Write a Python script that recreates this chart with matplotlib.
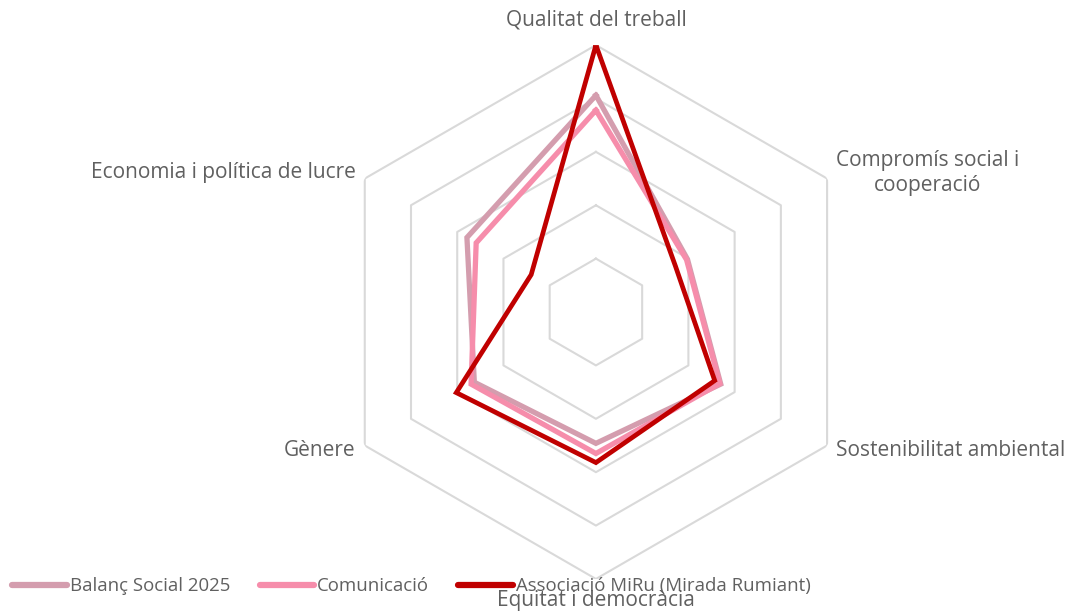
import numpy as np
import matplotlib
matplotlib.use("Agg")
import matplotlib.pyplot as plt

# data (scale 0-5)
categories = ["Qualitat del treball", "Compromís social i\ncooperació",
              "Sostenibilitat ambiental", "Equitat i democràcia",
              "Gènere", "Economia i política de lucre"]
balanc = [4.06, 1.98, 2.70, 2.46, 2.63, 2.79]
comunicacio = [3.78, 1.96, 2.68, 2.65, 2.70, 2.59]
miru = [5.0, 1.72, 2.57, 2.82, 3.02, 1.40]
series_names = ["Balanç Social 2025", "Comunicació", "Associació MiRu (Mirada Rumiant)"]
series_colors = ["#d49dae", "#f68dab", "#c00000"]
ring_values = [1, 2, 3, 4, 5]

plt.rcParams['font.family'] = ['Open Sans', 'DejaVu Sans']
text_color = "#606060"

fig = plt.figure(figsize=(10.72, 6.12), dpi=100)
ax = fig.add_axes([0.3069, 0.0539, 0.498, 0.8725], projection="polar")
ax.set_theta_offset(np.pi / 2)
ax.set_theta_direction(-1)

n = len(categories)
theta = np.linspace(0, 2 * np.pi, n, endpoint=False)
theta_closed = np.append(theta, theta[0])

# hexagonal grid instead of circles
for rv in ring_values:
    ax.plot(theta_closed, [rv] * (n + 1), color="#d9d9d9", lw=1.5, zorder=1)

for vals, name, col, lw in zip([balanc, comunicacio, miru], series_names,
                               series_colors, [3.8, 3.8, 3.4]):
    ax.plot(theta_closed, vals + vals[:1], color=col, lw=lw, label=name,
            solid_joinstyle="miter", zorder=3)

ax.set_ylim(0, 5)
ax.grid(False)
ax.spines["polar"].set_visible(False)
ax.set_xticks([])
ax.set_yticks([])
ax.patch.set_alpha(0)

# category labels
offsets = [(0, 25, "center"), (9, 6, "left"), (9, -5, "left"),
           (0, -22, "center"), (-9, -5, "right"), (-9, 6, "right")]
for t, lab, (dx, dy, ha) in zip(theta, categories, offsets):
    ax.annotate(lab, xy=(t, 5), xytext=(dx, dy), textcoords="offset pixels",
                ha=ha, va="center", multialignment="center", linespacing=1.25,
                fontsize=15, color=text_color, annotation_clip=False)

leg = fig.legend(loc="lower left", bbox_to_anchor=(-0.004, 0.0), ncol=3,
                 frameon=False, fontsize=13.4, handlelength=2.95,
                 handletextpad=0.15, columnspacing=1.56)
for txt in leg.get_texts():
    txt.set_color(text_color)
for h in leg.get_lines():
    h.set_linewidth(4.5)
    h.set_solid_capstyle("round")

fig.savefig("out.png", dpi=100)
